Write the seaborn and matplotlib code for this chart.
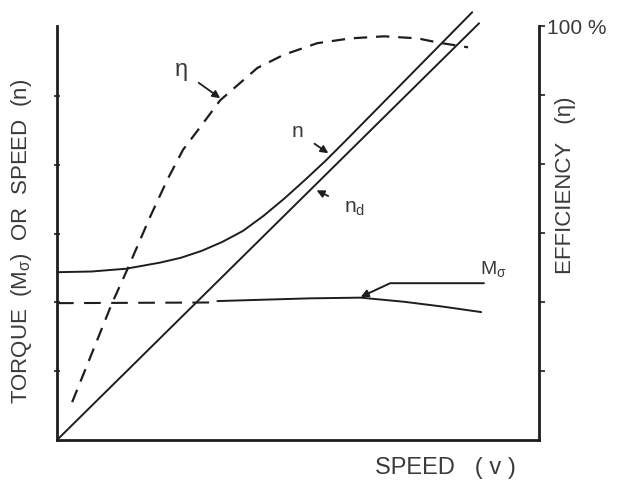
import numpy as np
import pandas as pd
import seaborn as sns
import matplotlib.pyplot as plt

# speed v on x (arbitrary units, 7 grid steps), left axis 0..6 grid steps
speed_nd = [0.0, 6.13]
nd = [0.0, 6.06]

speed_n = [0.0, 0.5, 1.0, 1.5, 1.8, 2.1, 2.4, 2.7, 3.0, 3.3, 3.6, 3.9, 4.2, 6.03]
n = [2.44, 2.45, 2.49, 2.58, 2.65, 2.75, 2.88, 3.04, 3.26, 3.51, 3.78, 4.06, 4.36, 6.22]

speed_eta = [0.22, 0.80, 1.03, 1.35, 1.60, 1.83, 2.08, 2.37, 2.91, 3.29, 3.78, 4.26, 4.75, 5.24, 5.53, 5.97]
eta = [0.55, 1.99, 2.50, 3.24, 3.78, 4.22, 4.55, 4.94, 5.41, 5.60, 5.77, 5.84, 5.87, 5.84, 5.78, 5.71]

# torque: dashed at low speed, solid above
speed_m_low = [0.0, 2.33]
m_low = [1.99, 2.0]
speed_m = [2.33, 3.0, 3.68, 4.41, 5.04, 5.6, 6.16]
m = [2.02, 2.04, 2.06, 2.07, 2.01, 1.94, 1.86]

ink = "#1e1e1e"
txt = "#3a3a3a"

sns.set_theme()
sns.set_style("white")
plt.rcParams['font.family'] = ['Liberation Sans', 'DejaVu Sans']

fig = plt.figure(figsize=(6.2, 4.82), dpi=100)
ax = fig.add_axes([57 / 620, 42 / 482, 482 / 620, 414 / 482])

df_nd = pd.DataFrame({"v": speed_nd, "y": nd})
df_n = pd.DataFrame({"v": speed_n, "y": n})
df_eta = pd.DataFrame({"v": speed_eta, "y": eta})
df_ml = pd.DataFrame({"v": speed_m_low, "y": m_low})
df_m = pd.DataFrame({"v": speed_m, "y": m})

line_kw = dict(ax=ax, color=ink, estimator=None, sort=False, clip_on=False)
sns.lineplot(data=df_nd, x="v", y="y", lw=1.4, **line_kw)
sns.lineplot(data=df_n, x="v", y="y", lw=1.4, **line_kw)
sns.lineplot(data=df_m, x="v", y="y", lw=1.4, **line_kw)
sns.lineplot(data=df_ml, x="v", y="y", lw=1.5, linestyle=(0, (8, 5)), **line_kw)
sns.lineplot(data=df_eta, x="v", y="y", lw=1.6, linestyle=(0, (6, 4)), **line_kw)

ax.set_xlim(0, 7)
ax.set_ylim(0, 6.02)
ax.set_xlabel("")
ax.set_ylabel("")
ax.set_xticks([1, 2, 3, 4, 5, 6])
ax.set_yticks([1, 2, 3, 4, 5])
ax.set_xticklabels([])
ax.set_yticklabels([])
ax.spines['top'].set_visible(False)
for s in ['left', 'bottom', 'right']:
    ax.spines[s].set_linewidth(2.0)
    ax.spines[s].set_color(ink)
ax.tick_params(axis='y', direction='inout', length=5, width=1.2, color=ink)
ax.tick_params(axis='x', direction='out', length=4, width=1.2, color=ink)

ax2 = ax.twinx()
ax2.set_ylim(0, 100)
ax2.set_yticks([100 * k / 6 for k in range(1, 6)] + [100])
ax2.set_yticklabels([""] * 5 + ["100 %"])
ax2.tick_params(axis='y', direction='out', length=4, width=1.2, color=ink, pad=1.5,
                labelsize=15, labelcolor=txt)
for s in ax2.spines.values():
    s.set_visible(False)

# curve labels
ax.annotate("η", xy=(2.37, 4.97), xytext=(1.8, 5.38), fontsize=17, color=txt,
            ha="center", va="center",
            arrowprops=dict(arrowstyle="-|>", color=ink, lw=1.3, mutation_scale=11, shrinkA=7, shrinkB=0))
ax.annotate("n", xy=(3.94, 4.17), xytext=(3.49, 4.48), fontsize=15, color=txt,
            ha="center", va="center",
            arrowprops=dict(arrowstyle="-|>", color=ink, lw=1.3, mutation_scale=11, shrinkA=7, shrinkB=0))
ax.annotate("n$_\\mathregular{d}$", xy=(3.77, 3.63), xytext=(4.32, 3.36), fontsize=15, color=txt,
            ha="center", va="center",
            arrowprops=dict(arrowstyle="-|>", color=ink, lw=1.3, mutation_scale=11, shrinkA=10, shrinkB=0))
ax.annotate("", xy=(4.41, 2.08), xytext=(6.2, 2.28),
            arrowprops=dict(arrowstyle="-|>", color=ink, lw=1.4, mutation_scale=11, shrinkA=0, shrinkB=0,
                            connectionstyle="angle,angleA=0,angleB=25,rad=0"))
ax.text(6.33, 2.48, "M$_\\mathregular{σ}$", fontsize=14, color=txt, ha="center", va="center")

fig.text(22 / 620, 1 - 241 / 482, "TORQUE  (M$_\\mathregular{σ}$)  OR  SPEED  (n)", rotation=90,
         fontsize=16, color=txt, ha="center", va="center")
fig.text(565 / 620, 1 - 185 / 482, "EFFICIENCY   (η)", rotation=90,
         fontsize=16, color=txt, ha="center", va="center")
fig.text(445 / 620, 1 - 468 / 482, "SPEED   ( v )", fontsize=17, color=txt, ha="center", va="center")

fig.savefig("out.png", dpi=100)
